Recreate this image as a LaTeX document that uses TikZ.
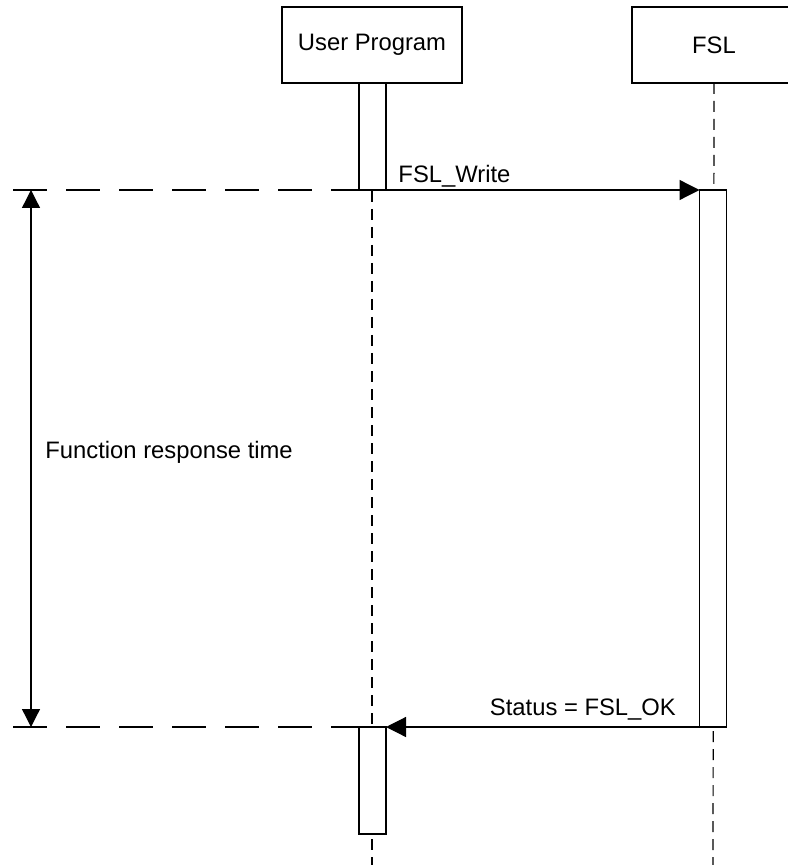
\documentclass[tikz,border=0pt]{standalone}
\usepackage{fontspec}
\setmainfont{Liberation Sans}
\usetikzlibrary{arrows.meta}

\tikzset{
  actor/.style={draw,line width=0.55pt,fill=white,inner sep=0pt,outer sep=0pt,minimum height=38pt},
  act/.style={draw,line width=0.55pt,fill=white,inner sep=0pt,outer sep=0pt,minimum width=13.5pt},
  lifeline/.style={line width=0.6pt,dash pattern=on 5.5pt off 3.5pt},
  msg/.style={line width=0.6pt,-{Triangle[length=10pt,width=10pt]}},
  marker/.style={line width=1.1pt,dash pattern=on 17pt off 9.5pt},
  txt/.style={font=\fontsize{11.9}{14}\selectfont}
}

\begin{document}
\begin{tikzpicture}[x=0.5pt,y=-0.5pt]
  \useasboundingbox (0,0) rectangle (787,865);

  \begin{scope}[every node/.style={actor,txt}]
    \node (prog) at (372,45) [minimum width=90pt] {User Program};
    \node (fsl)  at (714,45) [minimum width=82pt] {FSL};
  \end{scope}

  \coordinate (prog-end) at (372,865);
  \coordinate (fsl-end)  at (713,865);
  \draw[lifeline] (prog.south) -- (prog-end);
  \draw[lifeline] (fsl.south)  -- (fsl-end);

  \begin{scope}[every node/.style={act}]
    \node (call)  at (372.5,136.5) [minimum height=53.5pt]  {};
    \node (work)  at (713,458.5)   [minimum height=268.5pt] {};
    \node (back)  at (372.5,780.5) [minimum height=53.5pt]  {};
  \end{scope}

  \draw[msg] (call.south east) -- (work.north west)
    node[txt,pos=0,anchor=base west,xshift=2.6pt,yshift=3.5pt] {FSL\_Write};
  \draw[msg] (work.south west) -- (back.north east)
    node[txt,pos=0,anchor=base east,xshift=-8.2pt,yshift=6pt] {Status = FSL\_OK};

  \coordinate (start-l) at (13,190);
  \coordinate (end-l)   at (13,727);
  \draw[marker] (start-l) -- (call.south west);
  \draw[marker] (end-l) -- (back.north west);

  \coordinate (span-top) at (31,190);
  \coordinate (span-bot) at (31,727);
  \draw[line width=0.65pt,{Triangle[length=9pt,width=9pt]}-{Triangle[length=9pt,width=9pt]}]
    (span-top) -- (span-bot);
  \node[txt,anchor=base west,inner sep=0pt] (span) at (45,458) {Function response time};

\end{tikzpicture}
\end{document}
